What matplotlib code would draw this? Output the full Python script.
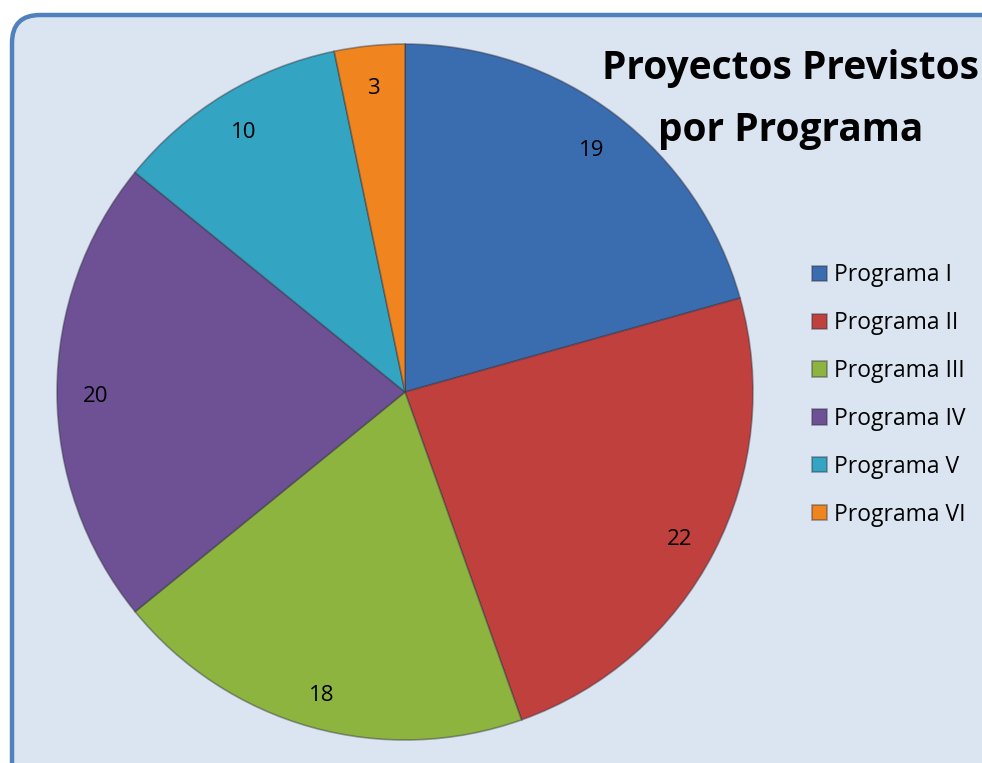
import matplotlib.pyplot as plt
from matplotlib.patches import FancyBboxPatch
import matplotlib.transforms as mtransforms
import numpy as np

programas = ['Programa I', 'Programa II', 'Programa III', 'Programa IV', 'Programa V', 'Programa VI']
proyectos = [19, 22, 18, 20, 10, 3]
colores = ['#3a6cb0', '#c0403d', '#8db43f', '#6e5095', '#33a4c2', '#f0851f']

plt.rcParams['font.family'] = ['Open Sans', 'DejaVu Sans']

fig = plt.figure(figsize=(9.82, 7.63), dpi=100)
fig.patch.set_facecolor('white')
ax = fig.add_axes([0, 0, 1, 1])

# fondo redondeado del grafico
bg = FancyBboxPatch((12, -40), 1000, 788, boxstyle='round,pad=0,rounding_size=28',
                    facecolor='#dbe5f1', edgecolor='#4f81bd', linewidth=3.2, zorder=0)
ax.add_patch(bg)

wedges, texts = ax.pie(proyectos, colors=colores, startangle=90, counterclock=False,
                       center=(405, 371), radius=348, labels=[str(v) for v in proyectos],
                       labeldistance=0.89, frame=True,
                       wedgeprops=dict(edgecolor=(0.2, 0.2, 0.25, 0.45), linewidth=1.2),
                       textprops=dict(fontsize=16, color='black'))
for w in wedges:
    w.set_zorder(2)
# etiquetas centradas, un poco mas abajo como en Excel
shift = mtransforms.offset_copy(ax.transData, fig=fig, x=0, y=-5, units='dots')
for t in texts:
    t.set_ha('center')
    t.set_va('center')
    t.set_transform(shift)

ax.set_xlim(0, 982)
ax.set_ylim(0, 763)
ax.set_aspect('equal')
ax.axis('off')

ax.text(791, 695, 'Proyectos Previstos', ha='center', va='center',
        fontsize=28, fontweight='bold', color='black')
ax.text(791, 633, 'por Programa', ha='center', va='center',
        fontsize=28, fontweight='bold', color='black')

leg = ax.legend(wedges, programas, loc='upper left', bbox_to_anchor=(801 / 982, 1 - 252 / 763),
                frameon=False, fontsize=16.5, handlelength=0.65, handleheight=0.65,
                handletextpad=0.3, labelspacing=1.04, borderpad=0)

fig.savefig('out.png', dpi=100)
